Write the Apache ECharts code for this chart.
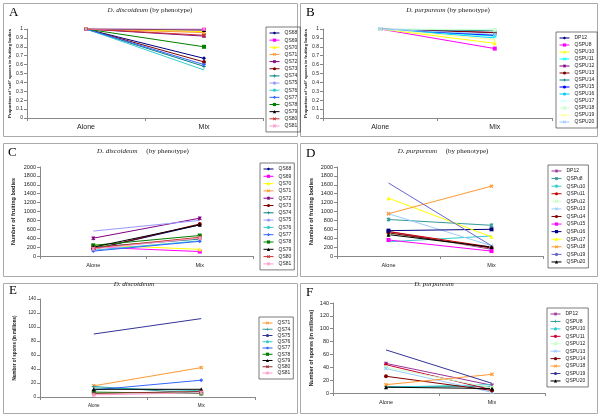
<!DOCTYPE html>
<html><head><meta charset="utf-8">
<script src="https://cdn.jsdelivr.net/npm/echarts@6/dist/echarts.min.js"></script>
<style>html,body{margin:0;padding:0;background:#fff}#c{width:600px;height:416px}</style>
</head><body><div id="c"></div>
<script>
const categories = ['Alone', 'Mix'];

// Panel A: D. discoideum proportion of self spores
const aNames = ['QS68','QS69','QS70','QS71','QS72','QS73','QS74','QS75','QS76','QS77','QS78','QS79','QS80','QS81'];
const aAlone = [1,1,1,1,1,1,1,1,1,1,1,1,1,1];
const aMix   = [0.67,0.99,0.97,0.96,0.92,0.63,0.58,1.0,0.54,0.60,0.80,0.99,0.93,1.0];

// Panel B: D. purpureum proportion of self spores
const bNames = ['DP12','QSPU8','QSPU10','QSPU11','QSPU12','QSPU13','QSPU14','QSPU15','QSPU16','QSPU17','QSPU18','QSPU19','QSPU20'];
const bAlone = [1,1,1,1,1,1,1,1,1,1,1,1,1];
const bMix   = [0.93,0.78,0.84,0.92,0.96,0.96,0.98,0.93,0.90,1.0,0.99,0.88,0.94];

// Panel C: D. discoideum number of fruiting bodies
const cNames = ['QS68','QS69','QS70','QS71','QS72','QS73','QS74','QS75','QS76','QS77','QS78','QS79','QS80','QS81'];
const cAlone = [150,200,250,180,400,150,200,560,130,110,240,200,180,160];
const cMix   = [700,100,150,400,850,720,380,800,340,330,460,700,420,400];

// Panel D: D. purpureum number of fruiting bodies
const dNames = ['DP12','QSPu8','QSPu10','QSPu11','QSPu12','QSPu13','QSPu14','QSPu15','QSPu16','QSPu17','QSPu18','QSPu19','QSPu20'];
const dAlone = [550,820,320,550,500,950,520,360,570,1300,950,1640,480];
const dMix   = [150,690,450,200,180,230,180,110,600,430,1570,230,200];

// Panel E: D. discoideum number of spores (millions)
const eNames = ['QS71','QS74','QS75','QS76','QS77','QS78','QS79','QS80','QS81'];
const eAlone = [16,15,90,13,10,7,11,5,3];
const eMix   = [42,5,112,9,24,5,11,8,6];

// Panel F: D. purpureum number of spores (millions)
const fNames = ['DP12','QSPU8','QSPU10','QSPU11','QSPU12','QSPU13','QSPU14','QSPU18','QSPU19','QSPU20'];
const fAlone = [46,10,9,44,40,38,26,13,67,9];
const fMix   = [12,10,13,5,8,1,4,29,15,7];

// ---- styles ----
const X = 'path://M0,2L2,0L5,3L8,0L10,2L7,5L10,8L8,10L5,7L2,10L0,8L3,5Z';
const AST = 'path://M0,2L2,0L4,2L4,0L6,0L6,2L8,0L10,2L7,5L10,8L8,10L6,8L6,10L4,10L4,8L2,10L0,8L3,5Z';
const PLUS = 'path://M4,0H6V4H10V6H6V10H4V6H0V4H4Z';
const aColors = ['#000080','#FF00FF','#FFFF00','#FF9933','#800080','#800000','#008080','#9999FF','#33CCCC','#3366FF','#008000','#000000','#CC3333','#FF99CC'];
const aSyms = ['diamond','rect','triangle',X,AST,'circle',PLUS,'none','none','diamond','rect','triangle',X,AST];
const bColors = ['#000080','#FF00FF','#FFFF00','#00FFFF','#800080','#800000','#008080','#0000FF','#00CCFF','#CCFFFF','#CCFFCC','#FFFF99','#99CCFF'];
const bSyms = ['diamond','rect','triangle',X,AST,'circle',PLUS,'none','none','diamond','rect','triangle',X];
const dColors = ['#993399','#339999','#33CCCC','#CC0000','#CCFFCC','#99CCFF','#800000','#FF00FF','#000080','#FFFF00','#FF9933','#6666CC','#000000'];
const dSyms = [AST,AST,'none','circle','rect',X,'circle','rect','rect','triangle',X,'none','triangle'];
const eColors = ['#FF9933','#339999','#333399','#33CCCC','#3366FF','#008000','#000000','#993333','#FF99CC'];
const eSyms = [X,PLUS,'none','none','diamond','rect','triangle',X,AST];
const fColors = ['#993399','#339999','#33CCCC','#CC0033','#CCFFCC','#99CCFF','#800000','#FF9933','#333399','#000000'];
const fSyms = [AST,PLUS,'none','circle','rect',X,'circle',X,'none','triangle'];

const panels = [
  {k:'A', names:aNames, alone:aAlone, mix:aMix, colors:aColors, syms:aSyms,
   grid:{left:27,top:29,width:236,height:89}, max:1, interval:0.1, yName:"Proportion of 'self' spores in fruiting bodies", yNameSize:4.3, yNameGap:14, yLabSize:5, xLabSize:7,
   leg:{left:266,top:27,gap:1.15}},
  {k:'B', names:bNames, alone:bAlone, mix:bMix, colors:bColors, syms:bSyms,
   grid:{left:323,top:29,width:229,height:89}, max:1, interval:0.1, yName:"Proportion of 'self' spores in fruiting bodies", yNameSize:4.3, yNameGap:9, yLabSize:5, xLabSize:7,
   leg:{left:556,top:32,gap:1.0}},
  {k:'C', names:cNames, alone:cAlone, mix:cMix, colors:aColors, syms:aSyms,
   grid:{left:40,top:167,width:213,height:89}, max:2000, interval:200, yName:'Number of fruiting bodies', yNameSize:5.5, yNameGap:24, yLabSize:5.5, xLabSize:5.5,
   leg:{left:260,top:163,gap:1.3}},
  {k:'D', names:dNames, alone:dAlone, mix:dMix, colors:dColors, syms:dSyms,
   grid:{left:337,top:167,width:206,height:89}, max:2000, interval:200, yName:'Number of fruiting bodies', yNameSize:5.5, yNameGap:23, yLabSize:5.5, xLabSize:5.5,
   leg:{left:548,top:165,gap:1.58}},
  {k:'E', names:eNames, alone:eAlone, mix:eMix, colors:eColors, syms:eSyms,
   grid:{left:40,top:299,width:215,height:98}, max:140, interval:20, yName:'Number of spores (in millions)', yNameSize:4.5, yNameGap:23, yLabSize:4.5, xLabSize:4.5,
   leg:{left:259,top:317,gap:0.25}},
  {k:'F', names:fNames, alone:fAlone, mix:fMix, colors:fColors, syms:fSyms,
   grid:{left:333,top:303,width:212,height:90}, max:140, interval:20, yName:'Number of spores (in millions)', yNameSize:5.3, yNameGap:19, yLabSize:5.5, xLabSize:5.5,
   leg:{left:547,top:308,gap:1.44}}
];

const titles = [
  {text:'{i|D. discoideum} (by phenotype)', left:150, top:7},
  {text:'{i|D. purpureum} (by phenotype)', left:448, top:7},
  {text:'{i|D. discoideum}     (by phenotype)', left:143, top:148},
  {text:'{i|D. purpureum}     (by phenotype)', left:443, top:148},
  {text:'{i|D. discoideum}', left:134, top:281},
  {text:'{i|D. purpureum}', left:434, top:281}
].map(t => ({text:t.text, left:t.left, top:t.top, textAlign:'center', padding:0,
  textStyle:{fontFamily:'Liberation Serif', fontSize:7, fontWeight:'normal', color:'#222',
    rich:{i:{fontStyle:'italic', fontFamily:'Liberation Serif', fontSize:7, color:'#222'}}}}));

const boxes = [[3,3,294,133],[300,3,297,133],[3,143,294,133],[300,143,297,133],[3,283,294,130],[300,283,297,130]];
const letters = [['A',9,6],['B',306,6],['C',8,146],['D',306,147],['E',9,284],['F',306,286]];

const graphic = [];
boxes.forEach(b => graphic.push({type:'rect', shape:{x:b[0]+0.5,y:b[1]+0.5,width:b[2],height:b[3]}, style:{fill:'none', stroke:'#aaaaaa', lineWidth:1}, silent:true}));
letters.forEach(l => graphic.push({type:'text', left:l[1], top:l[2], style:{text:l[0], font:'13px "Liberation Serif"', fill:'#000'}, silent:true}));

const grids=[], xAxes=[], yAxes=[], series=[], legends=[];
panels.forEach((p, i) => {
  grids.push(p.grid);
  xAxes.push({type:'category', gridIndex:i, data:categories, boundaryGap:true,
    axisLine:{lineStyle:{color:'#888', width:1}}, axisTick:{show:true, length:3, lineStyle:{color:'#888'}},
    axisLabel:{fontSize:p.xLabSize, color:'#222', fontFamily:'Liberation Sans', margin:6}});
  yAxes.push({type:'value', gridIndex:i, min:0, max:p.max, interval:p.interval,
    name:p.yName, nameLocation:'middle', nameGap:p.yNameGap, nameRotate:90,
    nameTextStyle:{fontSize:p.yNameSize, fontWeight:'bold', color:'#222', fontFamily:'Liberation Sans'},
    axisLine:{show:true, lineStyle:{color:'#888', width:1}}, axisTick:{show:true, length:3, lineStyle:{color:'#888'}},
    splitLine:{show:false},
    axisLabel:{fontSize:p.yLabSize, color:'#222', fontFamily:'Liberation Sans', margin:4,
      formatter: v => String(Math.round(v * 10) / 10)}});
  const legData = [];
  p.names.forEach((n, j) => {
    const nm = p.k + '|' + n;
    legData.push(nm);
    series.push({type:'line', name:nm, xAxisIndex:i, yAxisIndex:i,
      data:[p.alone[j], p.mix[j]],
      symbol:p.syms[j], symbolSize:4, showSymbol:true,
      lineStyle:{color:p.colors[j], width:1}, itemStyle:{color:p.colors[j]},
      animation:false, silent:true});
  });
  legends.push({orient:'vertical', left:p.leg.left, top:p.leg.top, data:legData,
    padding:3, itemGap:p.leg.gap, itemWidth:10, itemHeight:4, selectedMode:false,
    borderColor:'#444', borderWidth:0.7,
    lineStyle:{width:1}, itemStyle:{borderWidth:0},
    formatter: n => n.split('|')[1],
    textStyle:{fontSize:5, lineHeight:6, color:'#222', fontFamily:'Liberation Sans'}});
});

const chart = echarts.init(document.getElementById('c'), null, {renderer:'canvas'});
chart.setOption({
  backgroundColor:'#fff', animation:false,
  title:titles, grid:grids, xAxis:xAxes, yAxis:yAxes, series:series, legend:legends, graphic:graphic
});
</script></body></html>
